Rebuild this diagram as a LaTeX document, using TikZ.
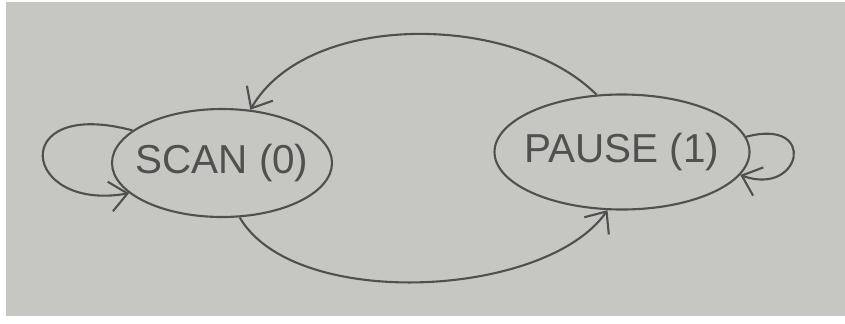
\documentclass[tikz,border=0pt]{standalone}
\usepackage{fontspec}
\setmainfont{Liberation Sans}
\usepackage{tikz}
\usetikzlibrary{arrows.meta,positioning,shapes.geometric}

\definecolor{paper}{RGB}{198,198,195}
\definecolor{pencil}{RGB}{80,80,78}

\begin{document}
\begin{tikzpicture}[
    state/.style={ellipse, draw=pencil, line width=1.2pt, inner ysep=0pt, inner xsep=-4mm,
                  text=pencil, font=\fontsize{23}{26}\selectfont},
    trans/.style={draw=pencil, line width=1.2pt,
                  -{Straight Barb[length=3.5mm,width=6mm,line width=1.2pt]}}]
  % paper
  \useasboundingbox[fill=white] (0,0) rectangle (16.9,6.46);
  \fill[paper] (0.12,0.14) rectangle (16.9,6.42);

  % states
  \node[state, minimum width=4.4cm, minimum height=2.16cm] (scan) at (4.44,3.2) {SCAN (0)};
  \node[state, minimum width=5.1cm, minimum height=2.3cm] (pause) at (12.44,3.42) {PAUSE (1)};

  % transitions between the two states
  \draw[trans] (pause.114) to[out=135,in=60,looseness=0.85] (scan.62);
  \draw[trans] (scan.-72) to[out=-60,in=-125,looseness=0.75] (pause.-104);

  % self loops
  \draw[trans] (scan.160) to[out=165,in=190,out distance=2.6cm,in distance=2.2cm] (scan.198);
  \draw[trans] (pause.7) to[out=15,in=-20,out distance=1.5cm,in distance=1.3cm] (pause.-11);
\end{tikzpicture}
\end{document}
